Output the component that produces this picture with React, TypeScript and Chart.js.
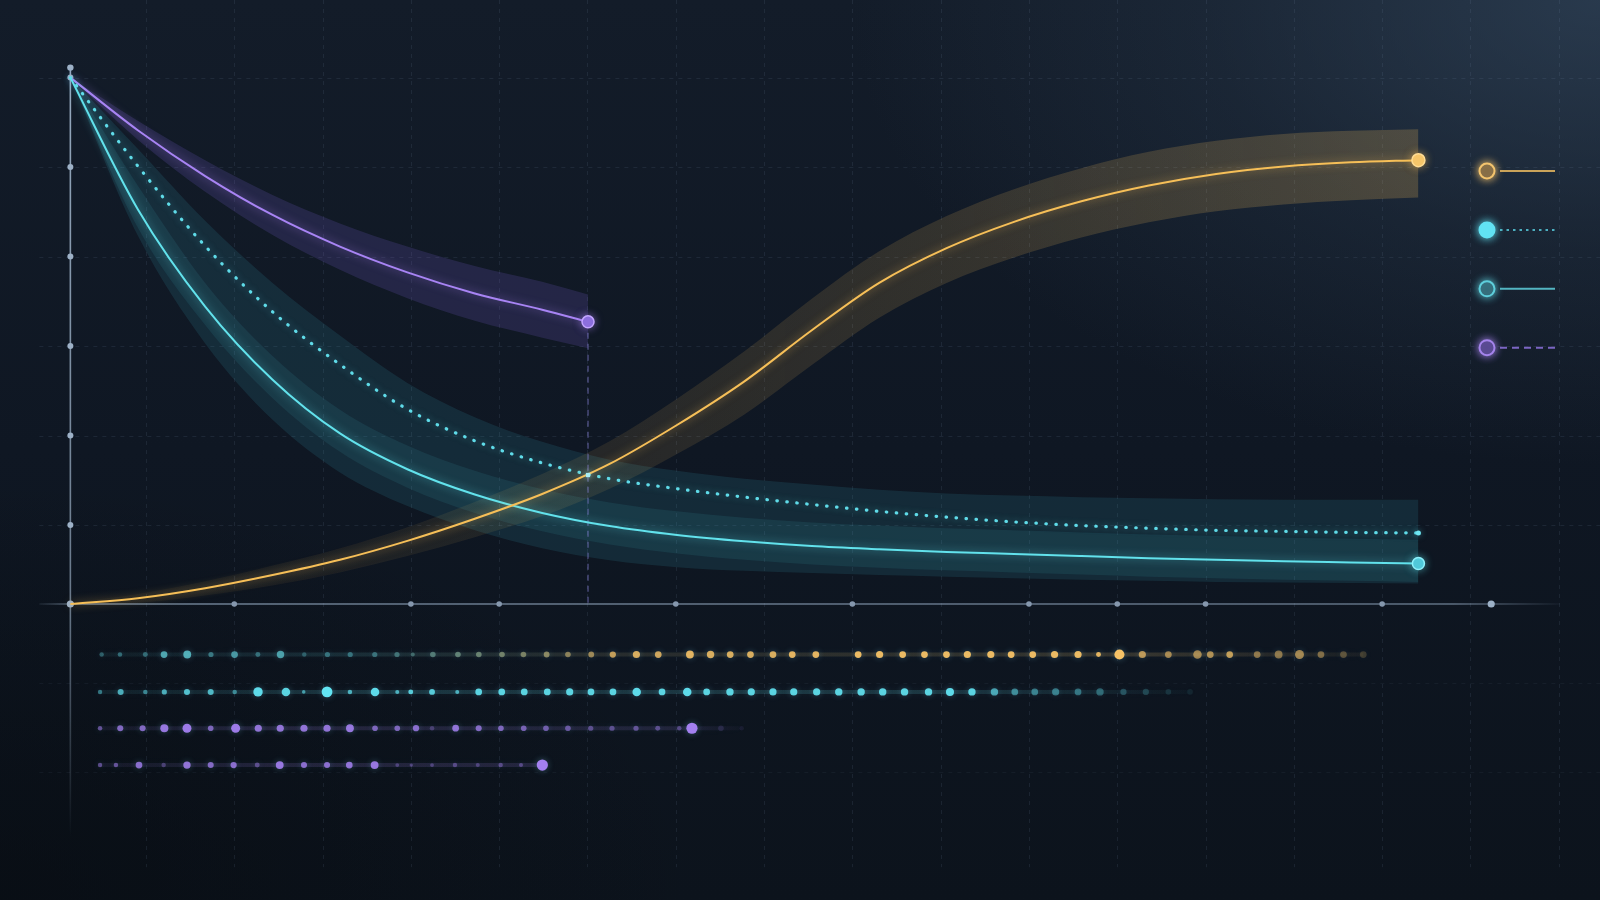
import React, { useEffect, useRef } from "react";
import { Chart, registerables } from "chart.js";

Chart.register(...registerables);

// ---------- data ----------
const CURVE_X = [0, 5, 10, 15, 20, 25, 30, 35, 40, 45, 50, 55, 60, 65, 70, 75, 80, 85, 90, 95, 100];
const GOLD = [0, 1.1, 3.0, 5.5, 8.4, 12.0, 16.2, 20.9, 26.6, 34.0, 42.3, 52.0, 61.0, 67.6, 72.6, 76.5, 79.5, 81.7, 83.1, 83.9, 84.3];
const GOLD_HI = [0.3, 1.9, 4.3, 7.3, 10.6, 14.6, 19.4, 24.7, 30.9, 39.0, 48.0, 58.0, 67.0, 73.7, 78.8, 82.8, 85.9, 88.0, 89.3, 89.9, 90.2];
const GOLD_LO = [-0.3, 0.2, 1.6, 3.5, 6.0, 9.1, 12.7, 16.7, 21.9, 28.5, 36.0, 45.4, 54.4, 61.0, 65.8, 69.6, 72.5, 74.6, 75.9, 76.7, 77.2];

const TEAL_SOLID = [100, 75.0, 56.5, 42.6, 32.4, 25.6, 20.8, 17.3, 14.8, 13.1, 11.9, 11.0, 10.4, 9.9, 9.5, 9.1, 8.7, 8.4, 8.1, 7.9, 7.7];
const TEAL_DOTTED = [100, 83.2, 68.0, 55.5, 45.5, 37.0, 31.0, 26.8, 23.8, 21.9, 20.3, 18.9, 17.6, 16.5, 15.6, 14.9, 14.4, 14.0, 13.8, 13.6, 13.5];
const TEAL_BAND_HI = [100, 86.5, 72.8, 61.0, 51.0, 42.0, 35.5, 30.8, 27.4, 25.3, 23.8, 22.7, 21.7, 21.0, 20.6, 20.3, 20.1, 19.9, 19.8, 19.8, 19.8];
const TEAL_BAND_LO = [100, 70.0, 49.5, 35.0, 25.0, 18.6, 14.0, 10.6, 8.3, 7.0, 6.3, 5.9, 5.5, 5.2, 4.9, 4.6, 4.4, 4.2, 4.1, 4.0, 3.9];
const TEAL_INNER_HI = [100, 79.5, 61.0, 47.1, 36.9, 30.1, 25.3, 21.8, 19.3, 17.6, 16.4, 15.5, 14.9, 14.4, 14.0, 13.6, 13.2, 12.9, 12.6, 12.4, 12.2];
const TEAL_INNER_LO = [100, 71.5, 53.0, 39.1, 28.9, 22.1, 17.3, 13.8, 11.3, 9.6, 8.4, 7.5, 6.9, 6.4, 6.0, 5.6, 5.2, 4.9, 4.6, 4.4, 4.2];

const PURPLE_X = [0, 5, 10, 15, 20, 25, 30, 35, 38.4];
const PURPLE = [100, 90.0, 81.3, 73.9, 67.9, 63.0, 59.0, 55.9, 53.6];
const PURPLE_HI = [100, 91.8, 84.3, 77.7, 72.3, 67.9, 64.2, 61.2, 58.8];
const PURPLE_LO = [100, 88.2, 78.3, 70.1, 63.5, 58.1, 53.8, 50.6, 48.6];

const CROSS_X = [38.4];
const CROSS_Y = [24.5];

const ROW_LEVELS = [-9.6, -16.7, -23.6, -30.6];

const ROW1_X = [2.32, 3.68, 5.56, 6.95, 8.67, 10.43, 12.18, 13.91, 15.59, 17.35, 19.07, 20.76, 22.58, 24.23, 25.4, 26.89, 28.75, 30.3, 32.02, 33.61, 35.33, 36.91, 38.64, 40.24, 41.99, 43.61, 45.96, 47.49, 48.95, 50.45, 52.12, 53.55, 55.3, 58.44, 60.03, 61.74, 63.36, 64.99, 66.54, 68.28, 69.79, 71.39, 73.01, 74.75, 76.27, 77.82, 79.52, 81.45, 83.61, 84.56, 86.0, 88.04, 89.63, 91.18, 92.77, 94.44, 95.91];
const ROW1_SIZE = [2, 2, 2.2, 3, 3.5, 2.3, 3, 2.2, 3.3, 2, 2.3, 2.3, 2.3, 2.3, 1.8, 2.5, 2.5, 2.5, 2.5, 2.5, 2.6, 2.5, 2.6, 2.8, 3.2, 3, 3.5, 3.3, 3, 3, 3, 3, 3, 3, 3.2, 3, 3, 3, 3.2, 3.2, 3, 3, 3.2, 3.2, 2.2, 4.5, 3.2, 3, 3.8, 3, 3, 3, 3.5, 4, 3, 3, 3];
const ROW1_ALPHA = [0.4, 0.45, 0.45, 0.8, 0.85, 0.5, 0.7, 0.45, 0.75, 0.35, 0.45, 0.45, 0.45, 0.45, 0.4, 0.5, 0.55, 0.55, 0.55, 0.55, 0.6, 0.55, 0.6, 0.75, 0.85, 0.8, 0.9, 0.85, 0.85, 0.85, 0.85, 0.9, 0.9, 0.95, 0.95, 0.95, 0.95, 0.95, 0.95, 0.95, 0.95, 0.95, 0.95, 0.95, 0.9, 1, 0.7, 0.6, 0.6, 0.65, 0.75, 0.5, 0.5, 0.6, 0.45, 0.3, 0.2];

const ROW2_X = [2.2, 3.73, 5.56, 6.97, 8.65, 10.41, 12.19, 13.92, 15.99, 17.31, 19.04, 20.74, 22.6, 24.25, 25.25, 26.83, 28.7, 30.29, 32.0, 33.67, 35.38, 37.04, 38.62, 40.25, 42.01, 43.89, 45.76, 47.2, 48.93, 50.51, 52.12, 53.66, 55.36, 57.0, 58.66, 60.26, 61.88, 63.66, 65.25, 66.88, 68.55, 70.06, 71.54, 73.09, 74.75, 76.38, 78.12, 79.78, 81.45, 83.06];
const ROW2_SIZE = [2, 2.7, 2, 2.3, 2.7, 2.7, 2, 4.2, 3.8, 1.6, 4.8, 2, 3.8, 1.8, 2.2, 2.6, 1.8, 3, 3, 3, 3, 3.2, 3, 3, 3.8, 3, 3.8, 3, 3.3, 3.2, 3.2, 3.2, 3.2, 3.3, 3.3, 3.3, 3.3, 3.3, 3.6, 3.3, 3.3, 3, 3, 3.2, 3, 3.3, 2.8, 2.8, 2.5, 2.5];
const ROW2_ALPHA = [0.45, 0.7, 0.5, 0.7, 0.8, 0.75, 0.5, 0.95, 0.9, 0.6, 1, 0.7, 0.95, 0.7, 0.85, 0.85, 0.7, 0.9, 0.9, 0.9, 0.9, 0.9, 0.9, 0.9, 0.95, 0.9, 0.95, 0.9, 0.9, 0.9, 0.9, 0.9, 0.9, 0.9, 0.9, 0.9, 0.9, 0.9, 0.95, 0.9, 0.65, 0.5, 0.45, 0.45, 0.4, 0.35, 0.25, 0.2, 0.12, 0.08];

const ROW3_X = [2.2, 3.7, 5.36, 6.97, 8.65, 10.41, 12.26, 13.94, 15.57, 17.33, 19.04, 20.74, 22.6, 24.25, 25.64, 26.83, 28.58, 30.29, 31.94, 33.63, 35.28, 36.91, 38.6, 40.18, 41.96, 43.57, 45.17, 46.11, 48.26, 49.8];
const ROW3_SIZE = [2, 2.7, 2.7, 3.6, 4, 2.5, 4, 3.2, 3.2, 3.2, 3.2, 3.5, 2.5, 2.5, 2.8, 2, 3, 2.7, 2.5, 2.5, 2.5, 2.5, 2.3, 2.3, 2.3, 2.2, 2, 5, 2.5, 2];
const ROW3_ALPHA = [0.55, 0.75, 0.75, 0.9, 0.95, 0.7, 0.95, 0.85, 0.85, 0.85, 0.85, 0.9, 0.7, 0.7, 0.8, 0.3, 0.85, 0.75, 0.7, 0.65, 0.6, 0.55, 0.45, 0.45, 0.5, 0.45, 0.4, 1, 0.15, 0.08];

const ROW4_X = [2.2, 3.38, 5.09, 6.92, 8.65, 10.41, 12.11, 13.86, 15.53, 17.33, 19.04, 20.69, 22.57, 24.25, 25.29, 26.83, 28.53, 30.22, 31.92, 33.43, 35.01];
const ROW4_SIZE = [2, 2, 3, 2, 3.3, 2.7, 2.8, 2.2, 3.5, 2.7, 2.7, 3, 3.5, 1.7, 1.5, 1.7, 2, 1.8, 2, 1.8, 5];
const ROW4_ALPHA = [0.5, 0.55, 0.8, 0.35, 0.85, 0.75, 0.8, 0.45, 0.9, 0.8, 0.8, 0.85, 0.9, 0.35, 0.35, 0.35, 0.4, 0.35, 0.4, 0.4, 1];

const GRID_X = [5.61, 12.16, 18.71, 25.26, 31.81, 38.36, 44.91, 51.46, 58.01, 64.56, 71.11, 77.66, 84.21, 90.76, 97.31, 103.86, 110.41];
const Y_GRID = [15, 32, 49, 66, 83, 100];
const LOWER_GRID = [-15, -32];
const Y_TICKS = [15, 32, 49, 66, 83, 100];
const Y_AXIS_TOP = 101.9;
const X_TICKS = [12.16, 25.26, 31.81, 44.91, 58.01, 71.11, 77.66, 84.21, 97.31];
const X_AXIS_END = 105.4;

// ---------- helpers ----------
const pts = (xs: number[], ys: number[]) => xs.map((x, i) => ({ x, y: ys[i] }));
const level = (xs: number[], y: number) => xs.map((x) => ({ x, y }));
const rgba = (c: number[], a: number) => `rgba(${c[0]},${c[1]},${c[2]},${a})`;
const TEAL_RGB = [92, 196, 206];
const GOLD_RGB = [246, 194, 102];
const CYAN_RGB = [98, 228, 242];
const PURPLE_RGB = [164, 128, 240];
const DOT_SCALE = 1.12;
const mixColor = (x: number) => {
  const t = Math.min(1, Math.max(0, (x - 22) / 18));
  return TEAL_RGB.map((v, i) => Math.round(v + (GOLD_RGB[i] - v) * t));
};
const lastOnly = (n: number, r: number) => (c: any) => (c.dataIndex === n - 1 ? r : 0);

const glowPlugin = {
  id: "glow",
  beforeDatasetDraw(chart: any, args: any) {
    const ds: any = chart.data.datasets[args.index];
    if (ds.glow) {
      chart.ctx.save();
      chart.ctx.shadowColor = ds.glow;
      chart.ctx.shadowBlur = ds.glowBlur ?? 8;
    }
  },
  afterDatasetDraw(chart: any, args: any) {
    const ds: any = chart.data.datasets[args.index];
    if (ds.glow) chart.ctx.restore();
  },
};

const LEGEND_ROWS = [
  { ring: "#f3c46e", fill: "#6a583d", line: "#e9b95f", dash: [] as number[] },
  { ring: "#62e2f3", fill: "#62e2f3", line: "#56c8d8", dash: [2.5, 4] },
  { ring: "#5ecfdc", fill: "#2c5664", line: "#5ecfdc", dash: [] as number[] },
  { ring: "#a584ec", fill: "#473c7c", line: "#8d72de", dash: [7, 5] },
];

const decorPlugin = {
  id: "decor",
  beforeDatasetsDraw(chart: any) {
    const { ctx, scales } = chart;
    const X = (v: number) => scales.x.getPixelForValue(v);
    const Y = (v: number) => scales.y.getPixelForValue(v);
    const seg = (x1: number, y1: number, x2: number, y2: number) => {
      ctx.beginPath();
      ctx.moveTo(x1, y1);
      ctx.lineTo(x2, y2);
      ctx.stroke();
    };
    const dot = (x: number, y: number, r: number) => {
      ctx.beginPath();
      ctx.arc(x, y, r, 0, Math.PI * 2);
      ctx.fill();
    };
    ctx.save();
    ctx.lineWidth = 1;
    ctx.setLineDash([4, 5]);
    ctx.strokeStyle = "rgba(125,150,180,0.13)";
    for (const v of GRID_X) {
      const p = Math.round(X(v)) + 0.5;
      seg(p, 0, p, Y(-50));
    }
    for (const v of Y_GRID) {
      const p = Math.round(Y(v)) + 0.5;
      seg(X(-2.3), p, 1600, p);
    }
    ctx.strokeStyle = "rgba(125,150,180,0.07)";
    for (const v of LOWER_GRID) {
      const p = Math.round(Y(v)) + 0.5;
      seg(X(-2.3), p, 1600, p);
    }
    ctx.setLineDash([]);
    const gy = ctx.createLinearGradient(0, Y(Y_AXIS_TOP), 0, Y(-44.6));
    gy.addColorStop(0, "rgba(165,186,208,0.9)");
    gy.addColorStop(0.7, "rgba(165,186,208,0.6)");
    gy.addColorStop(1, "rgba(165,186,208,0)");
    ctx.strokeStyle = gy;
    ctx.lineWidth = 1.6;
    seg(X(0), Y(Y_AXIS_TOP), X(0), Y(-44.6));
    const gx = ctx.createLinearGradient(X(-2.3), 0, X(110.5), 0);
    gx.addColorStop(0, "rgba(150,172,196,0.1)");
    gx.addColorStop(0.03, "rgba(150,172,196,0.7)");
    gx.addColorStop(0.93, "rgba(150,172,196,0.6)");
    gx.addColorStop(1, "rgba(150,172,196,0.05)");
    ctx.strokeStyle = gx;
    ctx.lineWidth = 1.5;
    seg(X(-2.3), Y(0), X(110.5), Y(0));
    ctx.fillStyle = "#9db1c7";
    for (const v of Y_TICKS) dot(X(0), Y(v), 3);
    dot(X(0), Y(Y_AXIS_TOP), 3.2);
    ctx.fillStyle = "#8597ad";
    for (const v of X_TICKS) dot(X(v), Y(0), 2.8);
    ctx.fillStyle = "#9db1c7";
    dot(X(X_AXIS_END), Y(0), 3.6);
    dot(X(0), Y(0), 3.6);
    ctx.restore();
  },
  afterDatasetsDraw(chart: any) {
    const { ctx } = chart;
    LEGEND_ROWS.forEach((it, i) => {
      const cx = 1487;
      const cy = 171 + i * 58.9;
      ctx.save();
      ctx.strokeStyle = it.line;
      ctx.lineWidth = 2;
      ctx.globalAlpha = 0.85;
      ctx.setLineDash(it.dash);
      ctx.beginPath();
      ctx.moveTo(cx + 13, cy);
      ctx.lineTo(1555, cy);
      ctx.stroke();
      ctx.globalAlpha = 1;
      ctx.setLineDash([]);
      ctx.shadowColor = it.ring;
      ctx.shadowBlur = 8;
      ctx.beginPath();
      ctx.arc(cx, cy, 7.5, 0, Math.PI * 2);
      ctx.fillStyle = it.fill;
      ctx.fill();
      ctx.lineWidth = 2;
      ctx.strokeStyle = it.ring;
      ctx.stroke();
      ctx.restore();
    });
  },
};

const hGradient = (stops: [number, string][]) => (c: any) => {
  const { chart } = c;
  if (!chart.chartArea || !chart.scales.x) return stops[stops.length - 1][1];
  const x0 = chart.scales.x.getPixelForValue(0);
  const x1 = chart.scales.x.getPixelForValue(100);
  const g = chart.ctx.createLinearGradient(x0, 0, x1, 0);
  stops.forEach(([o, col]) => g.addColorStop(o, col));
  return g;
};

const band = (xs: number[], ys: number[], color: any, fill: boolean) => ({
  data: pts(xs, ys),
  borderWidth: 0,
  pointRadius: 0,
  backgroundColor: color,
  fill: fill ? "+1" : false,
  cubicInterpolationMode: "monotone",
  order: 10,
});

const rowSet = (xs: number[], sizes: number[], alphas: number[], y: number, colorOf: (x: number) => number[], trail: any) => ({
  data: level(xs, y),
  showLine: true,
  borderColor: trail,
  borderWidth: 4,
  pointRadius: sizes.map((s) => s * DOT_SCALE),
  pointBorderWidth: 0,
  pointBackgroundColor: xs.map((x, i) => rgba(colorOf(x), alphas[i])),
  glow: "rgba(120,200,230,0.35)",
  glowBlur: 6,
  fill: false,
  order: 5,
});

export default function App() {
  const ref = useRef<HTMLCanvasElement | null>(null);

  useEffect(() => {
    if (!ref.current) return;
    const lastPX = PURPLE_X[PURPLE_X.length - 1];
    const lastPY = PURPLE[PURPLE.length - 1];
    const chart = new Chart(ref.current, {
      type: "line",
      data: {
        datasets: [
          {
            data: pts(CURVE_X, GOLD),
            borderColor: "#f6bf58",
            borderWidth: 2,
            pointRadius: lastOnly(CURVE_X.length, 6.5),
            pointBackgroundColor: "#f7c76c",
            pointBorderColor: "#ffdc94",
            pointBorderWidth: 1.5,
            cubicInterpolationMode: "monotone",
            fill: false,
            glow: "rgba(246,190,90,0.6)",
            glowBlur: 8,
            order: 1,
          } as any,
          {
            data: pts(CURVE_X, TEAL_DOTTED),
            borderColor: "#5fdbe8",
            borderWidth: 3.2,
            borderDash: [0.5, 9.5],
            borderCapStyle: "round",
            pointRadius: lastOnly(CURVE_X.length, 2.5),
            pointBackgroundColor: "#6fe6f2",
            pointBorderWidth: 0,
            cubicInterpolationMode: "monotone",
            fill: false,
            glow: "rgba(95,220,235,0.5)",
            glowBlur: 6,
            order: 1,
          } as any,
          {
            data: pts(CURVE_X, TEAL_SOLID),
            borderColor: "#62e2ec",
            borderWidth: 2,
            pointRadius: lastOnly(CURVE_X.length, 6),
            pointBackgroundColor: "#4fc6d8",
            pointBorderColor: "#8ef1fb",
            pointBorderWidth: 1.5,
            cubicInterpolationMode: "monotone",
            fill: false,
            glow: "rgba(95,225,235,0.6)",
            glowBlur: 8,
            order: 1,
          } as any,
          {
            data: pts(PURPLE_X, PURPLE),
            borderColor: "#a884f4",
            borderWidth: 2,
            pointRadius: lastOnly(PURPLE_X.length, 6),
            pointBackgroundColor: "#8a6ddb",
            pointBorderColor: "#c3a6ff",
            pointBorderWidth: 1.5,
            cubicInterpolationMode: "monotone",
            fill: false,
            glow: "rgba(168,132,244,0.6)",
            glowBlur: 8,
            order: 1,
          } as any,
          {
            data: [
              { x: lastPX, y: lastPY },
              { x: lastPX, y: 0 },
            ],
            borderColor: "rgba(135,130,215,0.6)",
            borderWidth: 1.2,
            borderDash: [6, 5],
            pointRadius: 0,
            fill: false,
            order: 4,
          } as any,
          {
            data: pts(CROSS_X, CROSS_Y),
            showLine: false,
            pointStyle: "rect",
            pointRadius: 3,
            pointBackgroundColor: "#a8eef4",
            pointBorderWidth: 0,
            glow: "rgba(160,240,250,0.8)",
            glowBlur: 6,
            order: 0,
          } as any,
          rowSet(ROW1_X, ROW1_SIZE, ROW1_ALPHA, ROW_LEVELS[0], mixColor,
            hGradient([[0, "rgba(92,196,206,0.05)"], [0.2, "rgba(92,196,206,0.13)"], [0.4, "rgba(200,180,110,0.13)"], [0.8, "rgba(246,194,102,0.16)"], [1, "rgba(246,194,102,0.02)"]])) as any,
          rowSet(ROW2_X, ROW2_SIZE, ROW2_ALPHA, ROW_LEVELS[1], () => CYAN_RGB,
            hGradient([[0, "rgba(98,228,242,0.05)"], [0.2, "rgba(98,228,242,0.15)"], [0.65, "rgba(98,228,242,0.15)"], [0.83, "rgba(98,228,242,0.02)"]])) as any,
          rowSet(ROW3_X, ROW3_SIZE, ROW3_ALPHA, ROW_LEVELS[2], () => PURPLE_RGB,
            hGradient([[0, "rgba(164,128,240,0.05)"], [0.15, "rgba(164,128,240,0.15)"], [0.45, "rgba(164,128,240,0.12)"], [0.5, "rgba(164,128,240,0.02)"]])) as any,
          rowSet(ROW4_X, ROW4_SIZE, ROW4_ALPHA, ROW_LEVELS[3], () => PURPLE_RGB,
            hGradient([[0, "rgba(164,128,240,0.05)"], [0.15, "rgba(164,128,240,0.14)"], [0.35, "rgba(164,128,240,0.14)"]])) as any,
          band(CURVE_X, GOLD_HI, hGradient([[0, "rgba(246,190,90,0.03)"], [0.4, "rgba(246,190,90,0.1)"], [1, "rgba(246,190,90,0.22)"]]), true) as any,
          band(CURVE_X, GOLD_LO, "rgba(0,0,0,0)", false) as any,
          band(CURVE_X, TEAL_BAND_HI, "rgba(56,170,190,0.14)", true) as any,
          band(CURVE_X, TEAL_BAND_LO, "rgba(0,0,0,0)", false) as any,
          band(CURVE_X, TEAL_INNER_HI, "rgba(70,200,215,0.1)", true) as any,
          band(CURVE_X, TEAL_INNER_LO, "rgba(0,0,0,0)", false) as any,
          band(PURPLE_X, PURPLE_HI, "rgba(130,100,220,0.18)", true) as any,
          band(PURPLE_X, PURPLE_LO, "rgba(0,0,0,0)", false) as any,
        ],
      },
      options: {
        animation: false,
        responsive: false,
        devicePixelRatio: 1,
        events: [],
        layout: { padding: 0, autoPadding: false },
        plugins: { legend: { display: false }, tooltip: { enabled: false }, title: { display: false } },
        scales: {
          x: { type: "linear", min: -5.22, max: 113.47, display: false },
          y: { type: "linear", min: -56.23, max: 114.74, display: false },
        },
      } as any,
      plugins: [decorPlugin, glowPlugin],
    });
    return () => chart.destroy();
  }, []);

  return (
    <div
      style={{
        position: "fixed",
        left: 0,
        top: 0,
        width: 1600,
        height: 900,
        overflow: "hidden",
        background:
          "radial-gradient(ellipse 1000px 620px at 100% 0%, rgba(50,70,92,0.7), rgba(50,70,92,0.25) 40%, rgba(50,70,92,0) 75%)," +
          "radial-gradient(ellipse 1000px 600px at 0% 100%, rgba(6,10,15,0.55), rgba(6,10,15,0) 70%)," +
          "linear-gradient(180deg, #131c29 0%, #0f1723 50%, #0c131c 100%)",
      }}
    >
      <canvas ref={ref} width={1600} height={900} style={{ display: "block" }} />
    </div>
  );
}
